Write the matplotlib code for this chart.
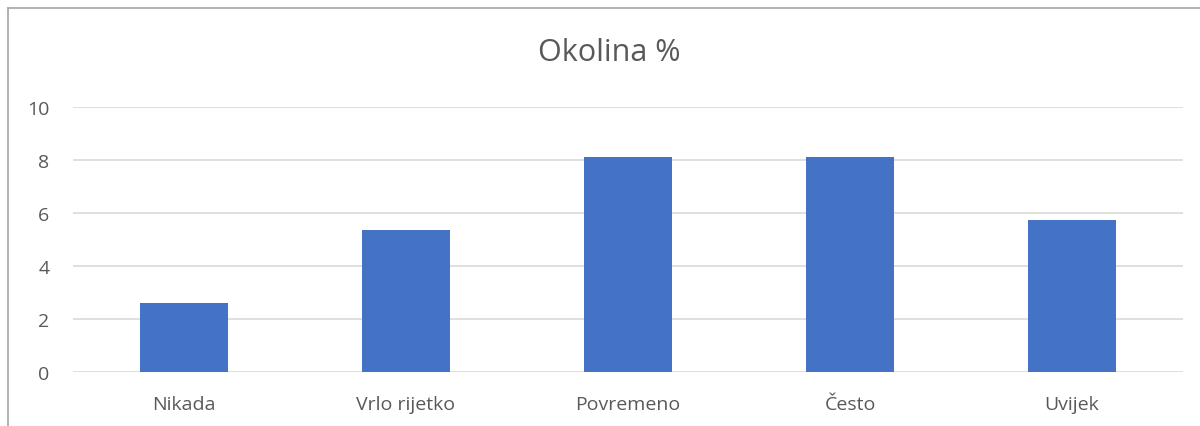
import matplotlib.pyplot as plt
from matplotlib.lines import Line2D

categories = ['Nikada', 'Vrlo rijetko', 'Povremeno', 'Često', 'Uvijek']
values = [2.62, 5.37, 8.13, 8.13, 5.75]
yticks = [0, 2, 4, 6, 8, 10]

plt.rcParams['font.family'] = ['Open Sans', 'DejaVu Sans']

fig = plt.figure(figsize=(12, 4.27), dpi=100)
ax = fig.add_axes([73 / 1200, 1 - 373.3 / 427, 1110 / 1200, 265 / 427])

x = range(len(categories))
ax.bar(x, values, width=0.4, color='#4472C4', zorder=3)

ax.set_xlim(-0.5, len(categories) - 0.5)
ax.set_ylim(0, 10)
ax.set_yticks(yticks)
ax.set_xticks(list(x))
ax.set_xticklabels(categories)
ax.yaxis.grid(True, color='#d9d9d9', linewidth=1.2, zorder=0)
ax.tick_params(axis='both', length=0, labelsize=14, colors='#595959')
ax.tick_params(axis='x', pad=16)
ax.tick_params(axis='y', pad=17)
for s in ax.spines.values():
    s.set_visible(False)

fig.text(0.508, 1 - 53 / 427, 'Okolina %', ha='center', va='center',
         fontsize=22, color='#595959')

# chart area border (cropped on right and bottom)
fig.add_artist(Line2D([8 / 1200, 8 / 1200], [0, 1 - 9 / 427], color='#a6a6a6', linewidth=1.2))
fig.add_artist(Line2D([8 / 1200, 1], [1 - 9 / 427, 1 - 9 / 427], color='#a6a6a6', linewidth=1.2))

fig.savefig('out.png', dpi=100)
